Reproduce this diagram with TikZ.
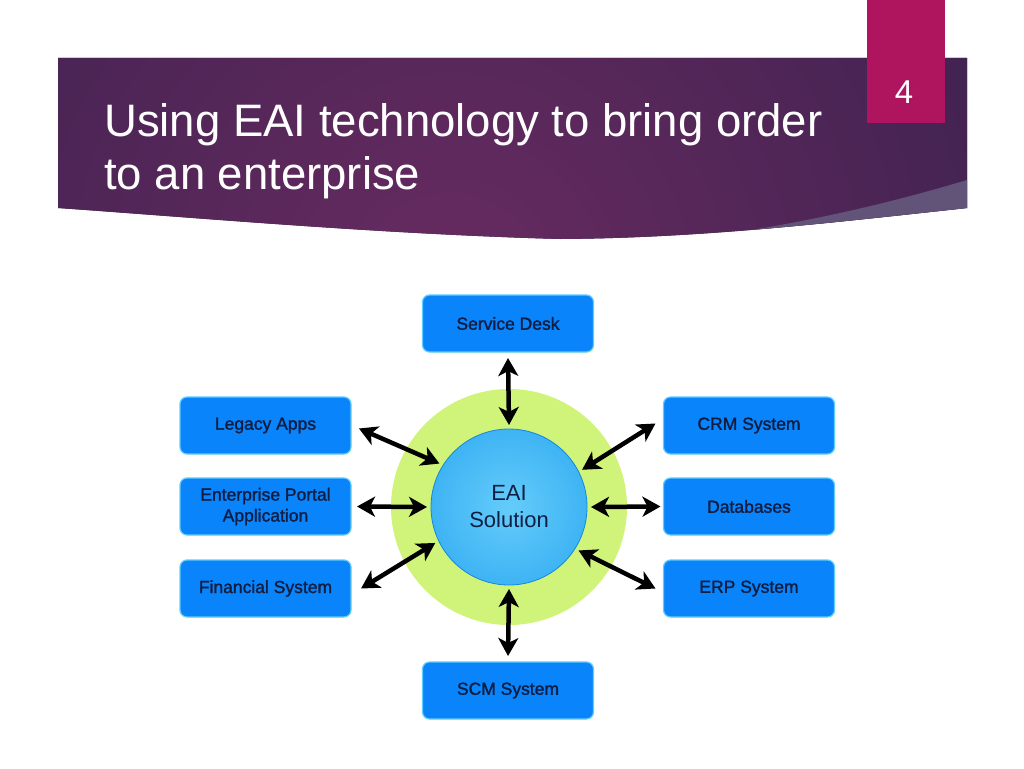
\documentclass[tikz,border=0pt]{standalone}
\usepackage{fontspec}
\setmainfont{Liberation Sans}
\newfontfamily\boxfont[FakeBold=1.6]{Liberation Sans}
\usetikzlibrary{arrows.meta}
\definecolor{boxblue}{RGB}{10,132,250}
\definecolor{boxedge}{RGB}{95,205,255}
\definecolor{navy}{RGB}{16,30,68}
\definecolor{lime}{RGB}{208,244,122}
\definecolor{eaiin}{RGB}{100,204,250}
\definecolor{eaimid}{RGB}{55,175,243}
\definecolor{eaiout}{RGB}{28,150,235}
\definecolor{eaiedge}{RGB}{22,135,220}
\definecolor{bannerin}{RGB}{104,43,97}
\definecolor{bannerout}{RGB}{44,30,72}
\definecolor{wedge}{RGB}{98,84,120}
\definecolor{magentabox}{RGB}{175,20,95}
\pgfdeclareradialshading{eaishade}{\pgfpoint{0bp}{0bp}}{color(0bp)=(eaiin); color(30bp)=(eaimid); color(50bp)=(eaiout)}
\tikzset{
  sysbox/.style={rectangle, rounded corners=7pt, fill=boxblue, draw=boxedge, line width=1.2pt,
    minimum width=171pt, minimum height=57pt, text=navy, inner sep=2pt,
    font=\boxfont\fontsize{17.5}{21}\selectfont, align=center, outer sep=6pt},
  biarrow/.style={{Stealth[length=18pt,width=20pt,inset=5pt]}-{Stealth[length=18pt,width=20pt,inset=5pt]}, line width=4.5pt, black},
  titletext/.style={text=white, font=\fontsize{45.5}{54}\selectfont, inner sep=0pt, anchor=base west}
}
\begin{document}
\begin{tikzpicture}[x=1pt,y=-1pt]
\useasboundingbox (0,0) rectangle (1024,768);
\fill[white] (0,0) rectangle (1024,768);
% banner
\begin{scope}
  \clip (58,58) -- (967,58) -- (967,208) .. controls (820,224) and (700,238) .. (560,239)
        .. controls (380,234) and (200,218) .. (58,208) -- cycle;
  \fill[bannerout] (0,0) rectangle (1024,260);
  \shade[inner color=bannerin, outer color=bannerout] (450,290) circle (900pt);
  \fill[wedge] (967,180) .. controls (860,212) and (760,232) .. (640,245) -- (967,245) -- cycle;
\end{scope}
\fill[magentabox] (867,0) rectangle (945,123);
\node[text=white, font=\fontsize{33}{36}\selectfont, inner sep=0pt] (pagenum) at (904,92) {4};
\node[titletext] (title1) at (104,136) {Using EAI technology to bring order};
\node[titletext] (title2) at (104,189) {to an enterprise};
% diagram
\node[circle, fill=lime, minimum size=236pt, inner sep=0pt] (ring) at (509,507) {};
\node[circle, shading=eaishade, draw=eaiedge, line width=0.8pt, minimum size=156pt, inner sep=0pt,
      outer sep=4pt, text=navy, align=center, font=\fontsize{22}{27}\selectfont] (eai) at (509,507) {EAI\\Solution};
\node[sysbox] (service) at (508,323.5) {Service Desk};
\node[sysbox] (legacy) at (265.5,425.5) {Legacy Apps};
\node[sysbox] (portal) at (265.5,506.5) {Enterprise Portal\\Application};
\node[sysbox] (financial) at (265.5,588.5) {Financial System};
\node[sysbox] (crm) at (749,425.5) {CRM System};
\node[sysbox] (db) at (749,506.5) {Databases};
\node[sysbox] (erp) at (749,588.5) {ERP System};
\node[sysbox] (scm) at (508,690.5) {SCM System};
% connectors
\draw[biarrow] (service.south) -- (eai.north);
\draw[biarrow] (eai.south) -- (scm.north);
\draw[biarrow] ([xshift=2pt,yshift=-3pt]legacy.east) -- (eai.148);
\draw[biarrow] (portal.east) -- (eai.west);
\draw[biarrow] ([xshift=4pt]financial.east) -- (eai.206);
\draw[biarrow] ([xshift=-2pt,yshift=2pt]crm.west) -- (eai.27);
\draw[biarrow] ([xshift=3pt]db.west) -- (eai.east);
\draw[biarrow] ([xshift=-2pt]erp.west) -- (eai.-32);
\end{tikzpicture}
\end{document}
